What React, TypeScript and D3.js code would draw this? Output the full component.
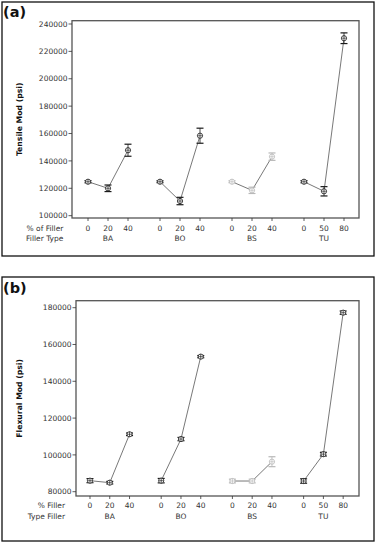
import React from "react";
import * as d3 from "d3";

const groups = ["BA", "BO", "BS", "TU"];
const fillerPct = [["0", "20", "40"], ["0", "20", "40"], ["0", "20", "40"], ["0", "50", "80"]];
const groupColors = ["#1a1a1a", "#1a1a1a", "#b8b8b8", "#1a1a1a"];

// Tensile modulus (psi): mean and half-interval
const tensileMean = [
  [124800, 120000, 147800],
  [124800, 110700, 158400],
  [124800, 118500, 143100],
  [124800, 117800, 229600],
];
const tensileErr = [
  [800, 2400, 4400],
  [700, 2700, 5500],
  [700, 2300, 2700],
  [800, 3400, 3900],
];
const tensileTicks = [100000, 120000, 140000, 160000, 180000, 200000, 220000, 240000];

// Flexural modulus (psi)
const flexMean = [
  [86000, 84900, 111200],
  [86000, 108600, 153400],
  [85800, 85800, 96300],
  [85800, 100400, 177300],
];
const flexErr = [
  [1100, 700, 700],
  [1200, 900, 600],
  [1000, 1000, 2700],
  [1200, 1000, 900],
];
const flexTicks = [80000, 100000, 120000, 140000, 160000, 180000];

const FONT = "'DejaVu Sans', Verdana, sans-serif";

type PanelProps = {
  tag: string;
  frame: [number, number, number, number];
  tagY: number;
  plot: { l: number; r: number; t: number; b: number };
  yDomain: [number, number];
  xDomain: [number, number];
  ticks: number[];
  means: number[][];
  errs: number[][];
  yTitle: string;
  row1: string;
  row2: string;
  rowEnd: number;
  row1Y: number;
  row2Y: number;
};

function Panel(p: PanelProps) {
  const y = d3.scaleLinear().domain(p.yDomain).range([p.plot.b, p.plot.t]);
  const x = d3.scaleLinear().domain(p.xDomain).range([p.plot.l, p.plot.r]);
  const slot = (g: number, i: number) => g * 3.6 + i;
  const line = d3
    .line<[number, number]>()
    .x((d) => d[0])
    .y((d) => d[1]);
  const [fx, fy, fw, fh] = p.frame;
  return (
    <g>
      <rect x={fx} y={fy} width={fw} height={fh} fill="white" stroke="#111" strokeWidth={1.3} />
      <text x={fx + 1} y={p.tagY} fontFamily={FONT} fontWeight="bold" fontSize={14.5} fill="#111">
        {p.tag}
      </text>
      <rect
        x={p.plot.l}
        y={p.plot.t}
        width={p.plot.r - p.plot.l}
        height={p.plot.b - p.plot.t}
        fill="none"
        stroke="#555"
        strokeWidth={1.3}
      />
      {p.ticks.map((t) => (
        <g key={t}>
          <line x1={p.plot.l - 3.5} x2={p.plot.l} y1={y(t)} y2={y(t)} stroke="#333" strokeWidth={0.8} />
          <text
            x={p.plot.l - 4.5}
            y={y(t)}
            dy="0.35em"
            textAnchor="end"
            fontFamily={FONT}
            fontSize={7.5}
            fill="#333"
          >
            {t}
          </text>
        </g>
      ))}
      <text
        transform={`translate(${22},${(p.plot.t + p.plot.b) / 2}) rotate(-90)`}
        textAnchor="middle"
        fontFamily={FONT}
        fontWeight="bold"
        fontSize={7.7}
        fill="#111"
      >
        {p.yTitle}
      </text>
      <text x={p.rowEnd} y={p.row1Y} textAnchor="end" fontFamily={FONT} fontSize={7.5} fill="#333">
        {p.row1}
      </text>
      <text x={p.rowEnd} y={p.row2Y} textAnchor="end" fontFamily={FONT} fontSize={7.5} fill="#333">
        {p.row2}
      </text>
      {groups.map((gName, g) => {
        const color = groupColors[g];
        const pts: [number, number][] = p.means[g].map((m, i) => [x(slot(g, i)), y(m)]);
        return (
          <g key={gName}>
            <text
              x={x(slot(g, 1))}
              y={p.row2Y}
              textAnchor="middle"
              fontFamily={FONT}
              fontSize={7.5}
              fill="#333"
            >
              {gName}
            </text>
            {fillerPct[g].map((lab, i) => (
              <g key={i}>
                <line
                  x1={x(slot(g, i))}
                  x2={x(slot(g, i))}
                  y1={p.plot.b}
                  y2={p.plot.b + 3}
                  stroke="#333"
                  strokeWidth={0.8}
                />
                <text
                  x={x(slot(g, i))}
                  y={p.row1Y}
                  textAnchor="middle"
                  fontFamily={FONT}
                  fontSize={7.5}
                  fill="#333"
                >
                  {lab}
                </text>
              </g>
            ))}
            <path d={line(pts) || ""} fill="none" stroke="#555" strokeWidth={0.8} />
            {p.means[g].map((m, i) => {
              const cx = x(slot(g, i));
              const e = p.errs[g][i];
              const yt = y(m + e);
              const yb = y(m - e);
              const cy = y(m);
              return (
                <g key={i} stroke={color} fill="none">
                  <line x1={cx} x2={cx} y1={yt} y2={yb} strokeWidth={0.8} />
                  <line x1={cx - 3.5} x2={cx + 3.5} y1={yt} y2={yt} strokeWidth={1.2} />
                  <line x1={cx - 3.5} x2={cx + 3.5} y1={yb} y2={yb} strokeWidth={1.2} />
                  <circle cx={cx} cy={cy} r={2.6} fill="white" strokeWidth={0.8} />
                  <line x1={cx} x2={cx} y1={cy - 2.6} y2={cy + 2.6} strokeWidth={0.7} />
                  <line x1={cx - 2.6} x2={cx + 2.6} y1={cy} y2={cy} strokeWidth={0.6} />
                </g>
              );
            })}
          </g>
        );
      })}
    </g>
  );
}

export default function App() {
  return (
    <svg
      width={376}
      height={543}
      style={{ position: "absolute", left: 0, top: 0, background: "white" }}
    >
      <Panel
        tag="(a)"
        frame={[2, 2, 372, 254]}
        tagY={17}
        plot={{ l: 72, r: 359, t: 20.7, b: 218 }}
        yDomain={[98300, 242400]}
        xDomain={[-0.8, 13.55]}
        ticks={tensileTicks}
        means={tensileMean}
        errs={tensileErr}
        yTitle="Tensile Mod (psi)"
        row1="% of Filler"
        row2="Filler Type"
        rowEnd={63.4}
        row1Y={230.5}
        row2Y={241}
      />
      <Panel
        tag="(b)"
        frame={[2, 277, 372, 264]}
        tagY={293}
        plot={{ l: 76, r: 359, t: 300.7, b: 496 }}
        yDomain={[77660, 183800]}
        xDomain={[-0.707, 13.6]}
        ticks={flexTicks}
        means={flexMean}
        errs={flexErr}
        yTitle="Flexural Mod (psi)"
        row1="% Filler"
        row2="Type Filler"
        rowEnd={65}
        row1Y={508}
        row2Y={519}
      />
    </svg>
  );
}
